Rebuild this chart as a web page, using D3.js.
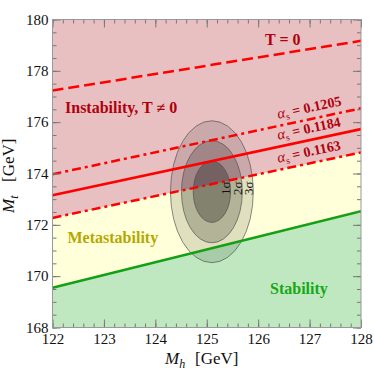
<!DOCTYPE html>
<html>
<head>
<meta charset="utf-8">
<script src="https://cdn.jsdelivr.net/npm/d3@7"></script>
<style>
  html, body { margin: 0; padding: 0; background: #fff; }
  svg { display: block; }
  text { font-family: "Liberation Serif", "Times New Roman", serif; }
</style>
</head>
<body>
<div id="chart"></div>
<script>
// ---------------- data ----------------
const mhDomain = [122, 128];
const mtDomain = [168, 180];
const xTickValues = [122, 123, 124, 125, 126, 127, 128];
const yTickValues = [168, 170, 172, 174, 176, 178, 180];

// boundary lines: M_t at M_h = 122 and M_h = 128
const lineMh = [122, 128];
const lineT0 = [177.23, 179.17];          // T = 0 (dashed)
const lineAs1205 = [173.97, 176.54];      // alpha_s = 0.1205 (dash-dot)
const lineAs1184 = [173.15, 175.73];      // alpha_s = 0.1184 (solid)
const lineAs1163 = [172.27, 174.82];      // alpha_s = 0.1163 (dash-dot)
const lineStability = [169.55, 172.53];   // stability bound (green)

const alphaLabels = ["0.1205", "0.1184", "0.1163"];

// experimental ellipses
const ellipseCenter = [125.1, 173.29];
const sigmaLabels = ["1σ", "2σ", "3σ"];
const ellipseSemiMh = [0.363, 0.592, 0.806];
const ellipseSemiMt = [1.196, 1.99, 2.765];

// ---------------- layout ----------------
const W = 374, H = 373;
const pL = 52.5, pR = 361, pT = 19.5, pB = 327.5;

const svg = d3.select("#chart").append("svg")
  .attr("width", W).attr("height", H);

const x = d3.scaleLinear().domain(mhDomain).range([pL, pR]);
const y = d3.scaleLinear().domain(mtDomain).range([pB, pT]);

svg.append("defs").append("clipPath").attr("id", "clip")
  .append("rect").attr("x", pL).attr("y", pT)
  .attr("width", pR - pL).attr("height", pB - pT);

const plot = svg.append("g").attr("clip-path", "url(#clip)");

const toPts = arr => lineMh.map((m, i) => [m, arr[i]]);

// background regions
plot.append("rect").attr("x", pL).attr("y", pT)
  .attr("width", pR - pL).attr("height", pB - pT)
  .attr("fill", "#E8C0C1");

const areaBelow = d3.area()
  .x(d => x(d[0])).y0(y(mtDomain[0])).y1(d => y(d[1]));

plot.append("path").datum(toPts(lineAs1163))
  .attr("d", areaBelow).attr("fill", "#FFFFDA");
plot.append("path").datum(toPts(lineStability))
  .attr("d", areaBelow).attr("fill", "#C0E8C0");

// ellipses (outer first)
const ellipseOpacity = [0.27, 0.2, 0.12];
const ell = [2, 1, 0];
ell.forEach(i => {
  plot.append("ellipse")
    .attr("cx", x(ellipseCenter[0]))
    .attr("cy", y(ellipseCenter[1]))
    .attr("rx", x(ellipseCenter[0] + ellipseSemiMh[i]) - x(ellipseCenter[0]))
    .attr("ry", y(ellipseCenter[1]) - y(ellipseCenter[1] + ellipseSemiMt[i]))
    .attr("fill", "#000")
    .attr("fill-opacity", ellipseOpacity[i])
    .attr("stroke", "#4a4a4a")
    .attr("stroke-opacity", 0.8)
    .attr("stroke-width", 0.8);
});

// lines
const line = d3.line().x(d => x(d[0])).y(d => y(d[1]));
const lineSpecs = [
  { data: lineStability, color: "#14A014", dash: null },
  { data: lineAs1163, color: "#FF0000", dash: "9,4,3,4" },
  { data: lineAs1184, color: "#FF0000", dash: null },
  { data: lineAs1205, color: "#FF0000", dash: "9,4,3,4" },
  { data: lineT0, color: "#FF0000", dash: "11,5" }
];
lineSpecs.forEach(s => {
  plot.append("path").datum(toPts(s.data))
    .attr("d", line)
    .attr("fill", "none")
    .attr("stroke", s.color)
    .attr("stroke-width", 2.5)
    .attr("stroke-dasharray", s.dash);
});

// sigma labels
ell.forEach(i => {
  const cx = x(ellipseCenter[0] + ellipseSemiMh[i]) - 5;
  const cy = y(ellipseCenter[1]) - 3.5;
  svg.append("text")
    .attr("transform", `translate(${cx},${cy}) rotate(-90)`)
    .attr("text-anchor", "middle")
    .attr("dominant-baseline", "central")
    .attr("font-size", 13)
    .attr("fill", "#111")
    .text(sigmaLabels[i]);
});

// alpha_s labels
const darkRed = "#B0000F";
[lineAs1205, lineAs1184, lineAs1163].forEach((ln, i) => {
  const m0 = 126.42;
  const t = (m0 - lineMh[0]) / (lineMh[1] - lineMh[0]);
  const mt = ln[0] + t * (ln[1] - ln[0]);
  const px = x(m0), py = y(mt);
  const ang = Math.atan2(y(ln[1]) - y(ln[0]), x(lineMh[1]) - x(lineMh[0])) * 180 / Math.PI;
  const tx = svg.append("text")
    .attr("transform", `translate(${px},${py}) rotate(${ang})`)
    .attr("y", -7)
    .attr("font-size", 14)
    .attr("font-weight", "bold")
    .attr("fill", darkRed);
  tx.append("tspan").attr("font-style", "italic").attr("font-weight", "normal").attr("font-size", 15).text("α");
  tx.append("tspan").attr("font-size", 10).attr("dy", 3).attr("font-weight", "normal").text("s");
  tx.append("tspan").attr("dy", -3).text(" = " + alphaLabels[i]);
});

// region labels
svg.append("text").attr("x", 265).attr("y", 45)
  .attr("font-size", 16).attr("font-weight", "bold").attr("fill", darkRed)
  .text("T = 0");
svg.append("text").attr("x", 65).attr("y", 113)
  .attr("font-size", 16).attr("font-weight", "bold").attr("fill", darkRed)
  .text("Instability, T ≠ 0");
svg.append("text").attr("x", 67.5).attr("y", 243)
  .attr("font-size", 16).attr("font-weight", "bold").attr("fill", "#B4A800")
  .text("Metastability");
svg.append("text").attr("x", 270).attr("y", 294)
  .attr("font-size", 16).attr("font-weight", "bold").attr("fill", "#16A816")
  .text("Stability");

// ---------------- axes / frame ----------------
const minorX = d3.range(122, 128.001, 0.2);
const minorY = d3.range(168, 180.001, 0.5);
const tickColor = "#777";

function styleAxis(g) {
  g.attr("font-family", null);
  g.select(".domain").remove();
  g.selectAll(".tick line").attr("stroke", tickColor);
  g.selectAll(".tick text").attr("fill", "#111").attr("font-size", 15);
}

svg.append("g").attr("transform", `translate(0,${pB})`)
  .call(d3.axisBottom(x).tickValues(minorX).tickSize(-4).tickFormat(""))
  .call(styleAxis);
svg.append("g").attr("transform", `translate(0,${pB})`)
  .call(d3.axisBottom(x).tickValues(xTickValues).tickSize(-8).tickPadding(6).tickFormat(d3.format("d")))
  .call(styleAxis);
svg.append("g").attr("transform", `translate(0,${pT})`)
  .call(d3.axisTop(x).tickValues(minorX).tickSize(-4).tickFormat(""))
  .call(styleAxis);
svg.append("g").attr("transform", `translate(0,${pT})`)
  .call(d3.axisTop(x).tickValues(xTickValues).tickSize(-8).tickFormat(""))
  .call(styleAxis);

svg.append("g").attr("transform", `translate(${pL},0)`)
  .call(d3.axisLeft(y).tickValues(minorY).tickSize(-4).tickFormat(""))
  .call(styleAxis);
svg.append("g").attr("transform", `translate(${pL},0)`)
  .call(d3.axisLeft(y).tickValues(yTickValues).tickSize(-8).tickPadding(4).tickFormat(d3.format("d")))
  .call(styleAxis);
svg.append("g").attr("transform", `translate(${pR},0)`)
  .call(d3.axisRight(y).tickValues(minorY).tickSize(-4).tickFormat(""))
  .call(styleAxis);
svg.append("g").attr("transform", `translate(${pR},0)`)
  .call(d3.axisRight(y).tickValues(yTickValues).tickSize(-8).tickFormat(""))
  .call(styleAxis);

svg.append("rect").attr("x", pL).attr("y", pT)
  .attr("width", pR - pL).attr("height", pB - pT)
  .attr("fill", "none").attr("stroke", "#999").attr("stroke-width", 1);

// axis titles
const xl = svg.append("text").attr("x", 165).attr("y", 364)
  .attr("font-size", 17).attr("fill", "#111");
xl.append("tspan").attr("font-style", "italic").text("M");
xl.append("tspan").attr("font-style", "italic").attr("font-size", 12).attr("dy", 4).text("h");
xl.append("tspan").attr("x", 195).attr("dy", -4).text("[GeV]");

const yl = svg.append("text").attr("transform", "translate(14,213) rotate(-90)")
  .attr("font-size", 17).attr("fill", "#111");
yl.append("tspan").attr("font-style", "italic").text("M");
yl.append("tspan").attr("font-style", "italic").attr("font-size", 12).attr("dy", 4).text("t");
yl.append("tspan").attr("x", 31).attr("dy", -4).text("[GeV]");
</script>
</body>
</html>
